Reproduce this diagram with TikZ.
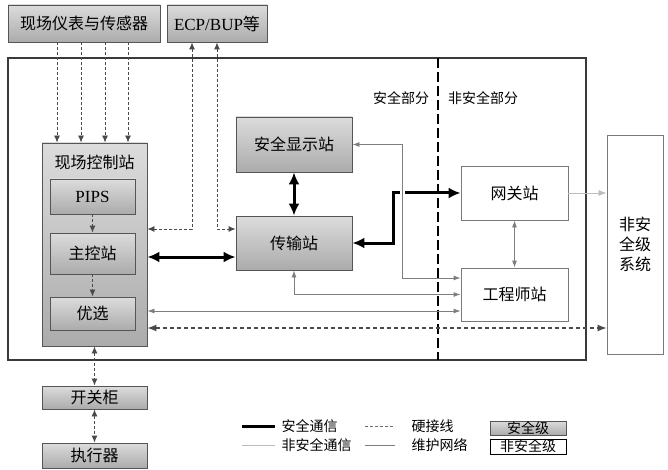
\documentclass[tikz,border=0pt]{standalone}
\usepackage{fontspec}
\setmainfont{Liberation Serif}
\newfontfamily\cjk{Noto Sans CJK SC}
\usetikzlibrary{arrows.meta,shadows}
\definecolor{sgtop}{HTML}{DCDCDC}
\definecolor{sgbot}{HTML}{ABABAB}
\definecolor{sedge}{HTML}{555555}
\definecolor{nedge}{HTML}{7A7A7A}
\definecolor{maint}{HTML}{7E7E7E}
\definecolor{nsafe}{HTML}{BDBDBD}
\definecolor{hwc}{HTML}{4A4A4A}
\definecolor{framec}{HTML}{3A3A3A}
\begin{document}
\begin{tikzpicture}[x=1pt,y=-1pt,
  mainfont/.style={font=\cjk\fontsize{16}{20}\selectfont},
  legfont/.style={font=\cjk\fontsize{14}{16}\selectfont},
  safebox/.style={draw=sedge, line width=0.9pt, top color=sgtop, bottom color=sgbot,
     inner sep=0pt, mainfont,
     drop shadow={shadow xshift=1.2pt, shadow yshift=-1.2pt, opacity=0.35}},
  nsbox/.style={draw=nedge, line width=0.9pt, fill=white, inner sep=0pt, mainfont},
  safeline/.style={draw=black, line width=3pt, >={Latex[length=12pt,width=11pt]}},
  hwline/.style={draw=hwc, line width=0.9pt, dash pattern=on 3pt off 2pt, >={Latex[length=7pt,width=6pt]}},
  hwbig/.style={draw=hwc, line width=1.2pt, dash pattern=on 4pt off 3pt, >={Latex[length=9pt,width=7pt]}},
  maintline/.style={draw=maint, line width=0.9pt, >={Latex[length=7pt,width=5pt]}},
  nsafeline/.style={draw=nsafe, line width=0.8pt, >={Latex[length=8pt,width=6pt]}},
]
\useasboundingbox (0,0) rectangle (668,470);
\fill[white] (0,0) rectangle (668,470);

% outer frame and divider
\draw[framec, line width=1.5pt] (8,58) rectangle (586,360);
\coordinate (divt) at (438,58);
\coordinate (divb) at (438,360);
\draw[black, line width=1.8pt, dash pattern=on 10pt off 4pt] (divt) -- (divb);
\node[legfont] (safepart) at (401,98) {安全部分};
\node[legfont] (nsafepart) at (483,98) {非安全部分};

% top boxes
\node[safebox, minimum width=152pt, minimum height=37pt] (sens) at (84,23.5) {现场仪表与传感器};
\node[safebox, minimum width=100pt, minimum height=37pt] (ecp) at (217,23.5) {\rmfamily\fontsize{17}{20}\selectfont ECP/BUP\cjk 等};

% field control station
\node[safebox, minimum width=105pt, minimum height=203pt] (fcs) at (94.5,244.5) {};
\node[mainfont] (fcst) at (94.5,162) {现场控制站};
\node[safebox, minimum width=85pt, minimum height=35pt] (pips) at (92.5,196.5) {\rmfamily\fontsize{17}{20}\selectfont PIPS};
\node[safebox, minimum width=85pt, minimum height=41pt] (mcs) at (92.5,253.5) {主控站};
\node[safebox, minimum width=85pt, minimum height=33pt] (sel) at (92.5,313.5) {优选};

% middle
\node[safebox, minimum width=116pt, minimum height=55pt] (disp) at (294,144.5) {安全显示站};
\node[safebox, minimum width=116pt, minimum height=54pt] (trans) at (294,243) {传输站};

% non-safety
\node[nsbox, minimum width=107pt, minimum height=54pt] (gw) at (514.5,193) {网关站};
\node[nsbox, minimum width=107pt, minimum height=53pt] (eng) at (514.5,294.5) {工程师站};
\node[nsbox, minimum width=56pt, minimum height=219pt, align=center] (nsys) at (635,244.5) {非安\\全级\\系统};

% bottom
\node[safebox, minimum width=105pt, minimum height=23pt] (kgg) at (94.5,397.5) {开关柜};
\node[safebox, minimum width=105pt, minimum height=25pt] (zxq) at (94.5,455.5) {执行器};

% hard-wired from sensors
\foreach \xx [count=\i] in {57,81,105,128} {
  \coordinate (s\i) at (\xx,0);
  \draw[hwline,->] (sens.south -| s\i) -- (fcs.north -| s\i);
}
% ECP/BUP
\coordinate (e1) at (192,229);
\coordinate (e2) at (217,229);
\draw[hwline,<->] (ecp.south -| e1) -- (e1) -- (fcs.east |- e1);
\draw[hwline,<->] (ecp.south -| e2) -- (e2) -- (trans.west |- e2);

% internal
\draw[hwline,->] (pips.south) -- (mcs.north);
\draw[hwline,->] (mcs.south) -- (sel.north);

% safety comm
\coordinate (m1) at (0,257);
\draw[safeline,<->] (fcs.east |- m1) -- (trans.west |- m1);
\draw[safeline,<->] (disp.south) -- (trans.north);
\draw[safeline,<->] (trans.east) -- ++(41,0) |- (gw.west);

% maintenance network
\fill[white] (400,188) rectangle (404.5,198);
\coordinate (g1) at (402,278);
\draw[maintline,<->] (disp.east) -| (g1) -- (eng.west |- g1);
\draw[maintline,<->] (trans.south) |- (eng.west);
\coordinate (g3) at (0,311);
\draw[maintline,<->] (fcs.east |- g3) -- (eng.west |- g3);
\draw[maintline,<->] (gw.south) -- (eng.north);

% non-safety comm
\draw[nsafeline,->] (gw.east) -- (nsys.west |- gw.east);

% hard-wired long
\coordinate (g4) at (0,328);
\draw[hwbig,<->] (fcs.east |- g4) -- (nsys.west |- g4);

% bottom hard-wired
\draw[hwline,<->] (fcs.south) -- (kgg.north);
\draw[hwline,<->] (kgg.south) -- (zxq.north);

% legend
\coordinate (l1a) at (242,426); \coordinate (l1b) at (275,426);
\coordinate (l2a) at (242,445); \coordinate (l2b) at (275,445);
\coordinate (l3a) at (365,426); \coordinate (l3b) at (395,426);
\coordinate (l4a) at (365,445); \coordinate (l4b) at (395,445);
\draw[safeline] (l1a) -- (l1b);
\draw[nsafeline] (l2a) -- (l2b);
\draw[hwline, draw=hwc!80, line width=0.6pt] (l3a) -- (l3b);
\draw[maintline] (l4a) -- (l4b);
\node[legfont, anchor=west] (lt1) at (278,426) {安全通信};
\node[legfont, anchor=west] (lt2) at (278,445) {非安全通信};
\node[legfont, anchor=west] (lt3) at (408,426) {硬接线};
\node[legfont, anchor=west] (lt4) at (408,445) {维护网络};
\node[draw=sedge, line width=0.9pt, top color=sgtop, bottom color=sgbot, inner sep=0pt,
      minimum width=76pt, minimum height=14pt, legfont] (lb1) at (528,428) {安全级};
\node[draw=black, line width=0.9pt, fill=white, inner sep=0pt,
      minimum width=76pt, minimum height=15pt, legfont] (lb2) at (528,446.5) {非安全级};
\end{tikzpicture}
\end{document}
